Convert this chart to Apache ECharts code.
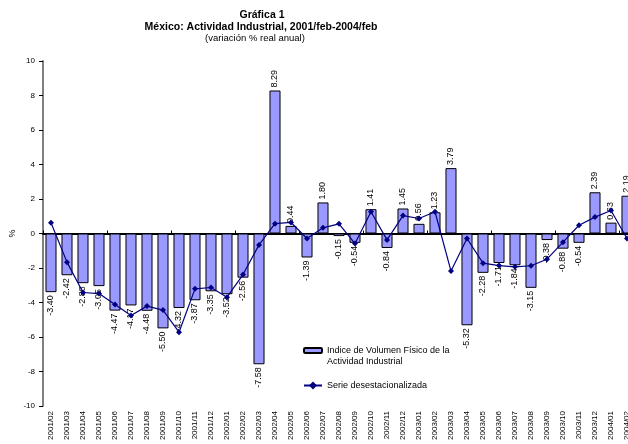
<!DOCTYPE html>
<html>
<head>
<meta charset="utf-8">
<script src="https://cdn.jsdelivr.net/npm/echarts@6/dist/echarts.min.js"></script>
<style>
html,body{margin:0;padding:0;background:#fff;}
#c{width:628px;height:444px;}
</style>
</head>
<body>
<div id="c"></div>
<script>
const categories = ['2001/02','2001/03','2001/04','2001/05','2001/06','2001/07','2001/08','2001/09','2001/10','2001/11','2001/12',
  '2002/01','2002/02','2002/03','2002/04','2002/05','2002/06','2002/07','2002/08','2002/09','2002/10','2002/11','2002/12',
  '2003/01','2003/02','2003/03','2003/04','2003/05','2003/06','2003/07','2003/08','2003/09','2003/10','2003/11','2003/12',
  '2004/01','2004/02'];
const indiceValues = [-3.40,-2.42,-2.88,-3.05,-4.47,-4.17,-4.48,-5.50,-4.32,-3.87,-3.35,
  -3.52,-2.56,-7.58,8.29,0.44,-1.39,1.80,-0.15,-0.54,1.41,-0.84,1.45,
  0.56,1.23,3.79,-5.32,-2.28,-1.71,-1.84,-3.15,-0.38,-0.88,-0.54,2.39,
  0.63,2.19];
const serieValues = [0.62,-1.66,-3.42,-3.48,-4.12,-4.75,-4.21,-4.44,-5.72,-3.21,-3.13,
  -3.69,-2.38,-0.66,0.57,0.64,-0.29,0.33,0.56,-0.58,1.26,-0.37,1.04,
  0.87,1.26,-2.18,-0.29,-1.72,-1.86,-1.93,-1.87,-1.49,-0.50,0.48,0.95,
  1.33,-0.29];
const yMin = -10, yMax = 10, yInterval = 2;
const titleLines = ['Gráfica 1','México: Actividad Industrial, 2001/feb-2004/feb','(variación % real anual)'];
const seriesNames = ['Indice de Volumen Físico de la Actividad Industrial','Serie desestacionalizada'];
const legendLines = [' ','Indice de Volumen Físico de la','Actividad Industrial'];

const FONT = 'Liberation Sans, Arial, sans-serif';
const chart = echarts.init(document.getElementById('c'), null, {renderer:'canvas'});

const barData = indiceValues.map(v => ({
  value: v,
  label: v >= 0
    ? {position:'top', align:'left', verticalAlign:'middle', rotate:90, distance:3}
    : {position:'bottom', align:'right', verticalAlign:'middle', rotate:90, distance:3}
}));

const option = {
  animation:false,
  backgroundColor:'#fff',
  title:[
    {text:titleLines[0], left:262, top:10, padding:0, textAlign:'center',
     textStyle:{fontFamily:FONT, fontSize:10.5, fontWeight:'bold', color:'#000'}},
    {text:titleLines[1], left:261, top:22, padding:0, textAlign:'center',
     textStyle:{fontFamily:FONT, fontSize:10.5, fontWeight:'bold', color:'#000'}},
    {text:titleLines[2], left:255, top:33, padding:0, textAlign:'center',
     textStyle:{fontFamily:FONT, fontSize:9.5, fontWeight:'normal', color:'#000'}}
  ],
  legend:[
    {data:[seriesNames[0]], left:303, top:334, padding:0, itemWidth:18, itemHeight:5, itemGap:0,
     formatter: n => legendLines.join('\n'),
     textStyle:{fontFamily:FONT, fontSize:9, color:'#000', lineHeight:11}},
    {data:[seriesNames[1]], left:303, top:381, padding:0, itemWidth:18, itemHeight:10, itemGap:0,
     textStyle:{fontFamily:FONT, fontSize:9, color:'#000'}}
  ],
  grid:{left:43, top:61, width:592, height:345, containLabel:false, outerBoundsMode:'none'},
  xAxis:[
    {type:'category', data:categories, position:'bottom',
     axisLine:{show:false, onZero:false}, axisTick:{show:false},
     axisLabel:{rotate:90, fontFamily:FONT, fontSize:8, color:'#000', margin:5, interval:0}},
    {type:'category', data:categories, position:'top',
     axisLine:{show:true, onZero:true, lineStyle:{color:'#000', width:2}},
     axisTick:{show:true, length:3, lineStyle:{color:'#000', width:1}},
     axisLabel:{show:false}}
  ],
  yAxis:{type:'value', min:yMin, max:yMax, interval:yInterval,
    name:'%', nameLocation:'middle', nameGap:26, nameRotate:90, nameMoveOverlap:false,
    nameTextStyle:{fontFamily:FONT, fontSize:9, color:'#000'},
    axisLine:{show:true, lineStyle:{color:'#808080', width:2}},
    axisTick:{show:true, length:4, lineStyle:{color:'#000', width:1}},
    axisLabel:{fontFamily:FONT, fontSize:8, color:'#000', margin:8},
    splitLine:{show:false}},
  series:[
    {name:seriesNames[0], type:'bar', xAxisIndex:0, data:barData, barCategoryGap:'31%',
     itemStyle:{color:'#9999FF', borderColor:'#000', borderWidth:1},
     label:{show:true, fontFamily:FONT, fontSize:9, color:'#000',
       formatter: p => p.value.toFixed(2)}},
    {name:seriesNames[1], type:'line', xAxisIndex:0, data:serieValues,
     symbol:'diamond', symbolSize:6, z:5,
     lineStyle:{color:'#000080', width:1.2}, itemStyle:{color:'#000080'}}
  ]
};
chart.setOption(option);
</script>
</body>
</html>
